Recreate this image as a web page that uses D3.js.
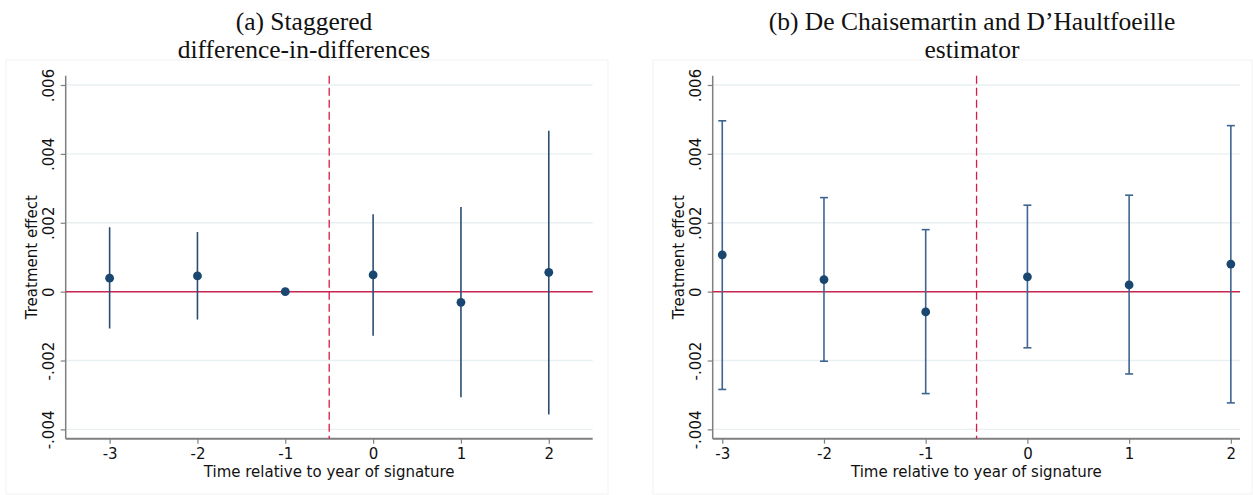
<!DOCTYPE html>
<html><head><meta charset="utf-8">
<script src="https://cdn.jsdelivr.net/npm/d3@7"></script>
<style>body{margin:0;background:#fff}svg{display:block}</style>
</head><body>
<svg id="c" width="1253" height="495"></svg>
<script>
const categories = [-3, -2, -1, 0, 1, 2];
const estA = [0.00039, 0.000456, 0, 0.000485, -0.00031, 0.00056];
const loA = [-0.00107, -0.00081, null, -0.00128, -0.00307, -0.00357];
const hiA = [0.00187, 0.00173, null, 0.00225, 0.00246, 0.00467];
const estB = [0.00107, 0.00035, -0.00059, 0.00043, 0.000195, 0.0008];
const loB = [-0.00284, -0.00202, -0.00296, -0.00163, -0.00239, -0.00323];
const hiB = [0.00496, 0.00273, 0.0018, 0.00251, 0.0028, 0.00482];
const yTicks = [-0.004, -0.002, 0, 0.002, 0.004, 0.006];
const yTickLabels = ["-.004", "-.002", "0", ".002", ".004", ".006"];
const titlesA = ["(a) Staggered", "difference-in-differences"];
const titlesB = ["(b) De Chaisemartin and D\u2019Haultfoeille", "estimator"];
const xTitle = "Time relative to year of signature";
const yTitle = "Treatment effect";
const eventLine = -0.5;

const svg = d3.select("#c");
const sans = "DejaVu Sans";
const serif = "Liberation Serif";
const TOP = 75.7, BOT = 438.7;

function panel(cfg) {
  const g = svg.append("g");
  g.append("rect").attr("x", cfg.box[0]).attr("y", cfg.box[1])
    .attr("width", cfg.box[2]).attr("height", cfg.box[3])
    .attr("fill", "none").attr("stroke", "#f2f2f2").attr("stroke-width", 1);
  const x = d3.scaleLinear().domain(cfg.xd).range([cfg.left, cfg.right]);
  const y = d3.scaleLinear().domain([-0.00427, 0.00627]).range([BOT, TOP]);
  g.selectAll(".grid").data(yTicks).join("line")
    .attr("x1", cfg.left).attr("x2", cfg.right)
    .attr("y1", d => y(d)).attr("y2", d => y(d))
    .attr("stroke", "#e8f0f2").attr("stroke-width", 1.3);
  const ya = d3.axisLeft(y).tickValues(yTicks).tickFormat((d, i) => yTickLabels[i]).tickSize(5);
  const yg = g.append("g").attr("transform", `translate(${cfg.left},0)`).call(ya);
  yg.select(".domain").attr("stroke", "#7f7f7f").attr("stroke-width", 1.5).attr("d", `M0,${TOP}V${BOT}`);
  yg.selectAll(".tick line").attr("stroke", "#7f7f7f").attr("stroke-width", 1.2);
  yg.selectAll(".tick text").attr("font-family", sans).attr("font-size", 15).attr("fill", "#111")
    .attr("transform", "rotate(-90)").attr("x", 0).attr("y", -12).attr("dy", "0").attr("text-anchor", "middle");
  const xa = d3.axisBottom(x).tickValues(categories).tickSize(5).tickPadding(5);
  const xg = g.append("g").attr("transform", `translate(0,${BOT})`).call(xa);
  xg.select(".domain").attr("stroke", "#7f7f7f").attr("stroke-width", 2).attr("d", `M${cfg.left},0H${cfg.right}`);
  xg.selectAll(".tick line").attr("stroke", "#7f7f7f").attr("stroke-width", 1.2);
  xg.selectAll(".tick text").attr("font-family", sans).attr("font-size", 15).attr("fill", "#111")
    .text(d => d < 0 ? "-" + Math.abs(d) : String(d));
  g.append("text").attr("x", (cfg.left + cfg.right) / 2).attr("y", 476.5)
    .attr("text-anchor", "middle").attr("font-family", sans).attr("font-size", 15).attr("fill", "#111").text(xTitle);
  g.append("text").attr("transform", `translate(${cfg.left - 29},${(TOP + BOT) / 2}) rotate(-90)`)
    .attr("text-anchor", "middle").attr("font-family", sans).attr("font-size", 15).attr("fill", "#111").text(yTitle);
  g.append("line").attr("x1", cfg.left).attr("x2", cfg.right).attr("y1", y(0)).attr("y2", y(0))
    .attr("stroke", "#c8264f").attr("stroke-width", 1.5);
  g.append("line").attr("x1", x(eventLine)).attr("x2", x(eventLine)).attr("y1", TOP).attr("y2", BOT)
    .attr("stroke", "#d81b46").attr("stroke-width", 1.3).attr("stroke-dasharray", "8,4");
  const rows = categories.map((c, i) => ({c, e: cfg.est[i], lo: cfg.lo[i], hi: cfg.hi[i]})).filter(d => d.lo !== null);
  g.selectAll(".ci").data(rows).join("line")
    .attr("x1", d => x(d.c)).attr("x2", d => x(d.c)).attr("y1", d => y(d.lo)).attr("y2", d => y(d.hi))
    .attr("stroke", cfg.ciColor).attr("stroke-width", 1.6);
  if (cfg.caps) {
    ["lo", "hi"].forEach(k => {
      g.selectAll(".cap" + k).data(rows).join("line")
        .attr("x1", d => x(d.c) - 4).attr("x2", d => x(d.c) + 4)
        .attr("y1", d => y(d[k])).attr("y2", d => y(d[k]))
        .attr("stroke", cfg.ciColor).attr("stroke-width", 1.6);
    });
  }
  g.selectAll(".pt").data(categories.map((c, i) => ({c, e: cfg.est[i]}))).join("circle")
    .attr("cx", d => x(d.c)).attr("cy", d => y(d.e)).attr("r", 4.4).attr("fill", "#1a476f");
  cfg.title.forEach((t, i) => {
    svg.append("text").attr("x", cfg.tx).attr("y", 29.5 + i * 28).attr("text-anchor", "middle")
      .attr("font-family", serif).attr("font-size", 25.5).attr("fill", "#111").text(t);
  });
}

panel({box: [6, 60, 602, 434], left: 65.7, right: 592.7, xd: [-3.5, 2.5], est: estA, lo: loA, hi: hiA,
  caps: false, ciColor: "#2b4d75", title: titlesA, tx: 304});
panel({box: [653, 60, 599, 434], left: 712.7, right: 1240, xd: [-3.094, 2.09], est: estB, lo: loB, hi: hiB,
  caps: true, ciColor: "#3e6590", title: titlesB, tx: 972});
</script>
</body></html>
